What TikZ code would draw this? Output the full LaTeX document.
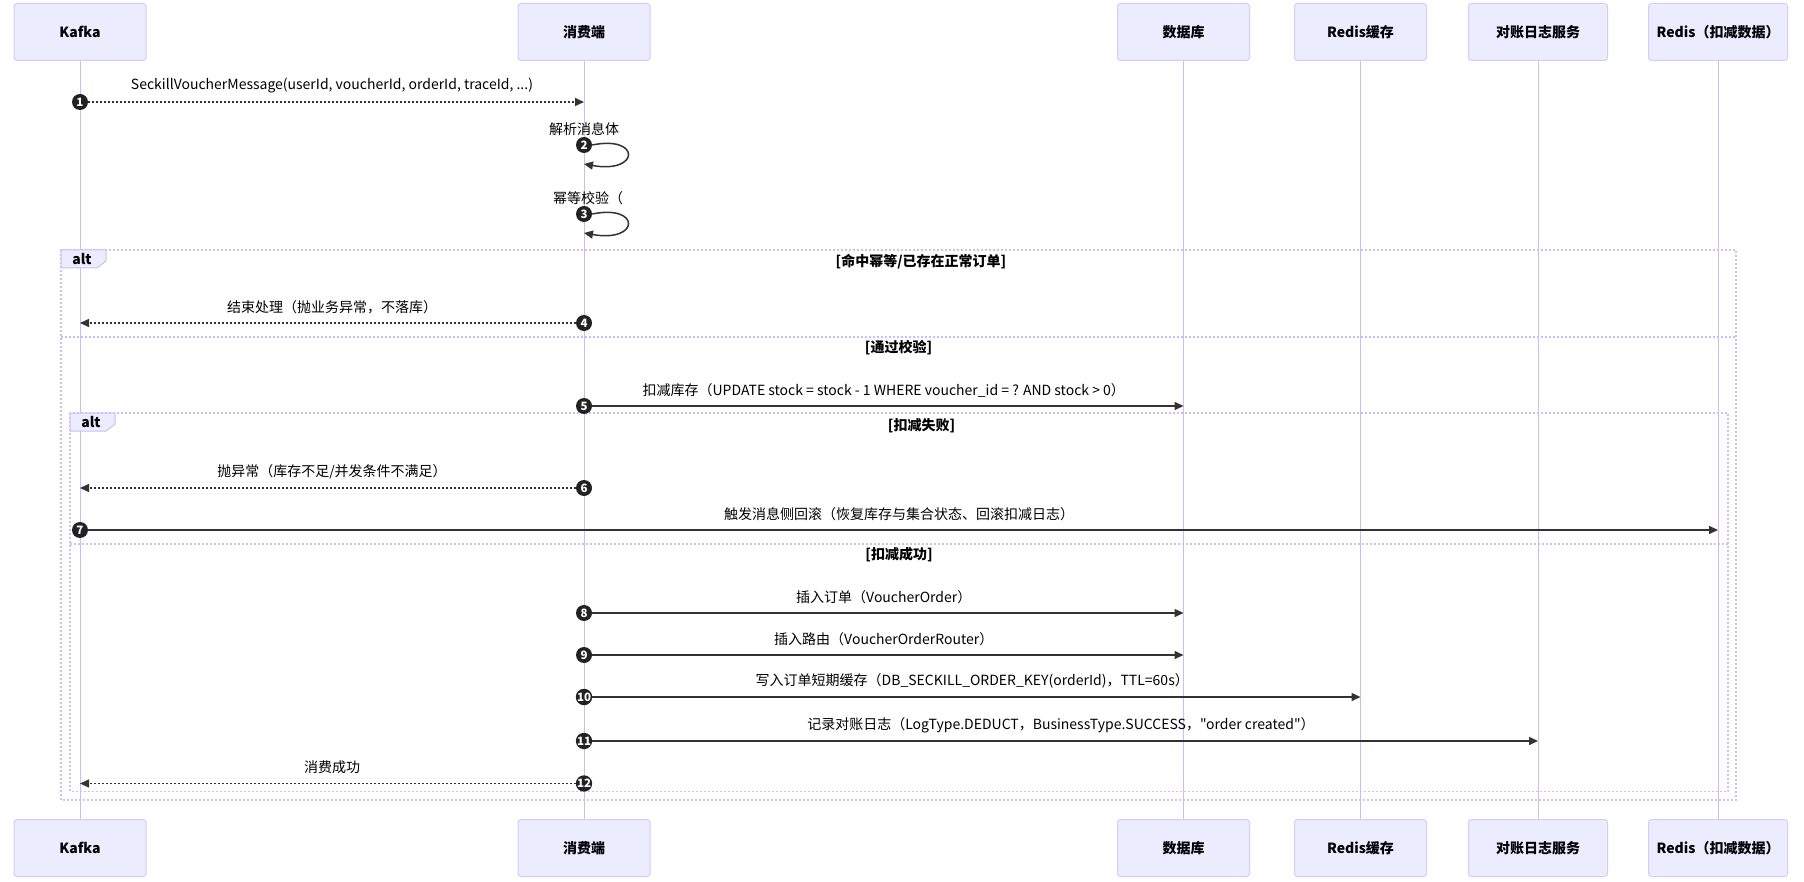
\documentclass[tikz,border=0pt]{standalone}
\usepackage{fontspec}
\setmainfont{Noto Sans CJK SC}[Ligatures=TeXOff]
\usepackage{tikz}
\usetikzlibrary{arrows.meta,calc,positioning,shapes}
\usepackage{color}
\definecolor{actorfill}{HTML}{ECECFF}
\definecolor{actorborder}{HTML}{D6CBF3}
\definecolor{lifeline}{HTML}{CBBCF2}
\definecolor{altline}{HTML}{CDBEF3}
\definecolor{signal}{HTML}{333333}
\definecolor{numfill}{HTML}{222222}

\begin{document}
\begin{tikzpicture}[x=1pt,y=-1pt,>={Triangle[length=9pt,width=8pt]},node distance=758pt,
font=\fontsize{14}{16}\selectfont]
\tikzstyle{actor}=[draw=actorborder,fill=actorfill,rounded corners=3pt,line width=1pt,minimum width=132pt,minimum height=57pt,font=\fontsize{14}{16}\selectfont\bfseries]
\tikzstyle{life}=[draw=lifeline,line width=1pt]
\tikzstyle{num}=[circle,fill=numfill,text=white,inner sep=0pt,minimum size=16pt,font=\fontsize{11.5}{11.5}\selectfont\bfseries]
\tikzstyle{msg}=[->,draw=signal,line width=1.5pt]
\tikzstyle{reply}=[msg,dash pattern=on 2pt off 2pt]
\tikzstyle{lbl}=[inner sep=0pt]
\tikzstyle{frame}=[draw=altline,line width=1.5pt,dash pattern=on 2pt off 2pt]
\tikzstyle{tab}=[draw=altline,fill=actorfill,line width=1pt]
\tikzstyle{cond}=[inner sep=0pt,font=\fontsize{14}{16}\selectfont\bfseries]

\useasboundingbox (0,0) rectangle (1804,882);

\node[actor] (kafka) at (80,32) {Kafka};
\node[actor] (cons) at (584,32) {消费端};
\node[actor] (db) at (1183.5,32) {数据库};
\node[actor] (cache) at (1360.5,32) {Redis缓存};
\node[actor,minimum width=139pt] (recon) at (1538,32) {对账日志服务};
\node[actor,minimum width=139pt] (redisd) at (1718,32) {Redis（扣减数据）};
\node[actor] (kafkaB) [below=of kafka] {Kafka};
\node[actor] (consB) [below=of cons] {消费端};
\node[actor] (dbB) [below=of db] {数据库};
\node[actor] (cacheB) [below=of cache] {Redis缓存};
\node[actor,minimum width=139pt] (reconB) [below=of recon] {对账日志服务};
\node[actor,minimum width=139pt] (redisdB) [below=of redisd] {Redis（扣减数据）};

\draw[life] (kafka) -- (kafkaB);
\draw[life] (cons) -- (consB);
\draw[life] (db) -- (dbB);
\draw[life] (cache) -- (cacheB);
\draw[life] (recon) -- (reconB);
\draw[life] (redisd) -- (redisdB);

\draw[frame] (61,250) rectangle (1736,800);
\draw[frame] (61,337) -- (1736,337);
\draw[tab] (61,250) -- (106,250) -- (106,261) -- (97,268) -- (61,268) -- cycle;
\node[cond] (alt1) at (82,259) {alt};
\node[cond] (c1) at (921,262) {[命中幂等/已存在正常订单]};
\node[cond] (c2) at (898.5,348) {[通过校验]};

\draw[frame] (70,413) rectangle (1728,791.5);
\draw[frame] (70,544) -- (1728,544);
\draw[tab] (70,413) -- (115,413) -- (115,424) -- (106,431) -- (70,431) -- cycle;
\node[cond] (alt2) at (91,422) {alt};
\node[cond] (c3) at (921.5,426) {[扣减失败]};
\node[cond] (c4) at (899,555) {[扣减成功]};

\node[num] (n1) at (kafka |- 0,102) {1};
\node[lbl] (m1) at ($(n1)!.5!(n1 -| cons)+(0,-16)$) {SeckillVoucherMessage(userId, voucherId, orderId, traceId, ...)};
\draw[reply] (n1) -- (n1 -| cons);

\node[num] (n2) at (cons |- 0,145) {2};
\node[lbl] (m2) at ($(n2)+(0,-16)$) {解析消息体};
\coordinate (e2) at (cons |- 0,164);
\draw[msg] (n2.east) .. controls +(49,-10) and +(56,10) .. (e2);

\node[num] (n3) at (cons |- 0,214) {3};
\node[lbl] (m3) at ($(n3)+(4,-16)$) {幂等校验（};
\coordinate (e3) at (cons |- 0,233);
\draw[msg] (n3.east) .. controls +(49,-10) and +(56,10) .. (e3);

\node[num] (n4) at (cons |- 0,323) {4};
\node[lbl] (m4) at ($(n4)!.5!(n4 -| kafka)+(0,-16)$) {结束处理（抛业务异常，不落库）};
\draw[reply] (n4) -- (n4 -| kafka);

\node[num] (n5) at (cons |- 0,406) {5};
\node[lbl] (m5) at ($(n5)!.5!(n5 -| db)+(0,-16)$) {扣减库存（UPDATE stock = stock - 1 WHERE voucher\_id = ? AND stock > 0）};
\draw[msg] (n5) -- (n5 -| db);

\node[num] (n6) at (cons |- 0,488) {6};
\node[lbl] (m6) at ($(n6)!.5!(n6 -| kafka)+(0,-16)$) {抛异常（库存不足/并发条件不满足）};
\draw[reply] (n6) -- (n6 -| kafka);

\node[num] (n7) at (kafka |- 0,530) {7};
\node[lbl] (m7) at ($(n7)!.5!(n7 -| redisd)+(0,-16)$) {触发消息侧回滚（恢复库存与集合状态、回滚扣减日志）};
\draw[msg] (n7) -- (n7 -| redisd);

\node[num] (n8) at (cons |- 0,613) {8};
\node[lbl] (m8) at ($(n8)!.5!(n8 -| db)+(0,-16)$) {插入订单（VoucherOrder）};
\draw[msg] (n8) -- (n8 -| db);

\node[num] (n9) at (cons |- 0,655) {9};
\node[lbl] (m9) at ($(n9)!.5!(n9 -| db)+(0,-16)$) {插入路由（VoucherOrderRouter）};
\draw[msg] (n9) -- (n9 -| db);

\node[num] (n10) at (cons |- 0,697) {10};
\node[lbl] (m10) at ($(n10)!.5!(n10 -| cache)+(0,-16)$) {写入订单短期缓存（DB\_SECKILL\_ORDER\_KEY(orderId)，TTL=60s）};
\draw[msg] (n10) -- (n10 -| cache);

\node[num] (n11) at (cons |- 0,741) {11};
\node[lbl] (m11) at ($(n11)!.5!(n11 -| recon)+(0,-16)$) {记录对账日志（LogType.DEDUCT，BusinessType.SUCCESS，"order created"）};
\draw[msg] (n11) -- (n11 -| recon);

\node[num] (n12) at (cons |- 0,783.5) {12};
\node[lbl] (m12) at ($(n12)!.5!(n12 -| kafka)+(0,-16)$) {消费成功};
\draw[reply] (n12) -- (n12 -| kafka);
\end{tikzpicture}
\end{document}
